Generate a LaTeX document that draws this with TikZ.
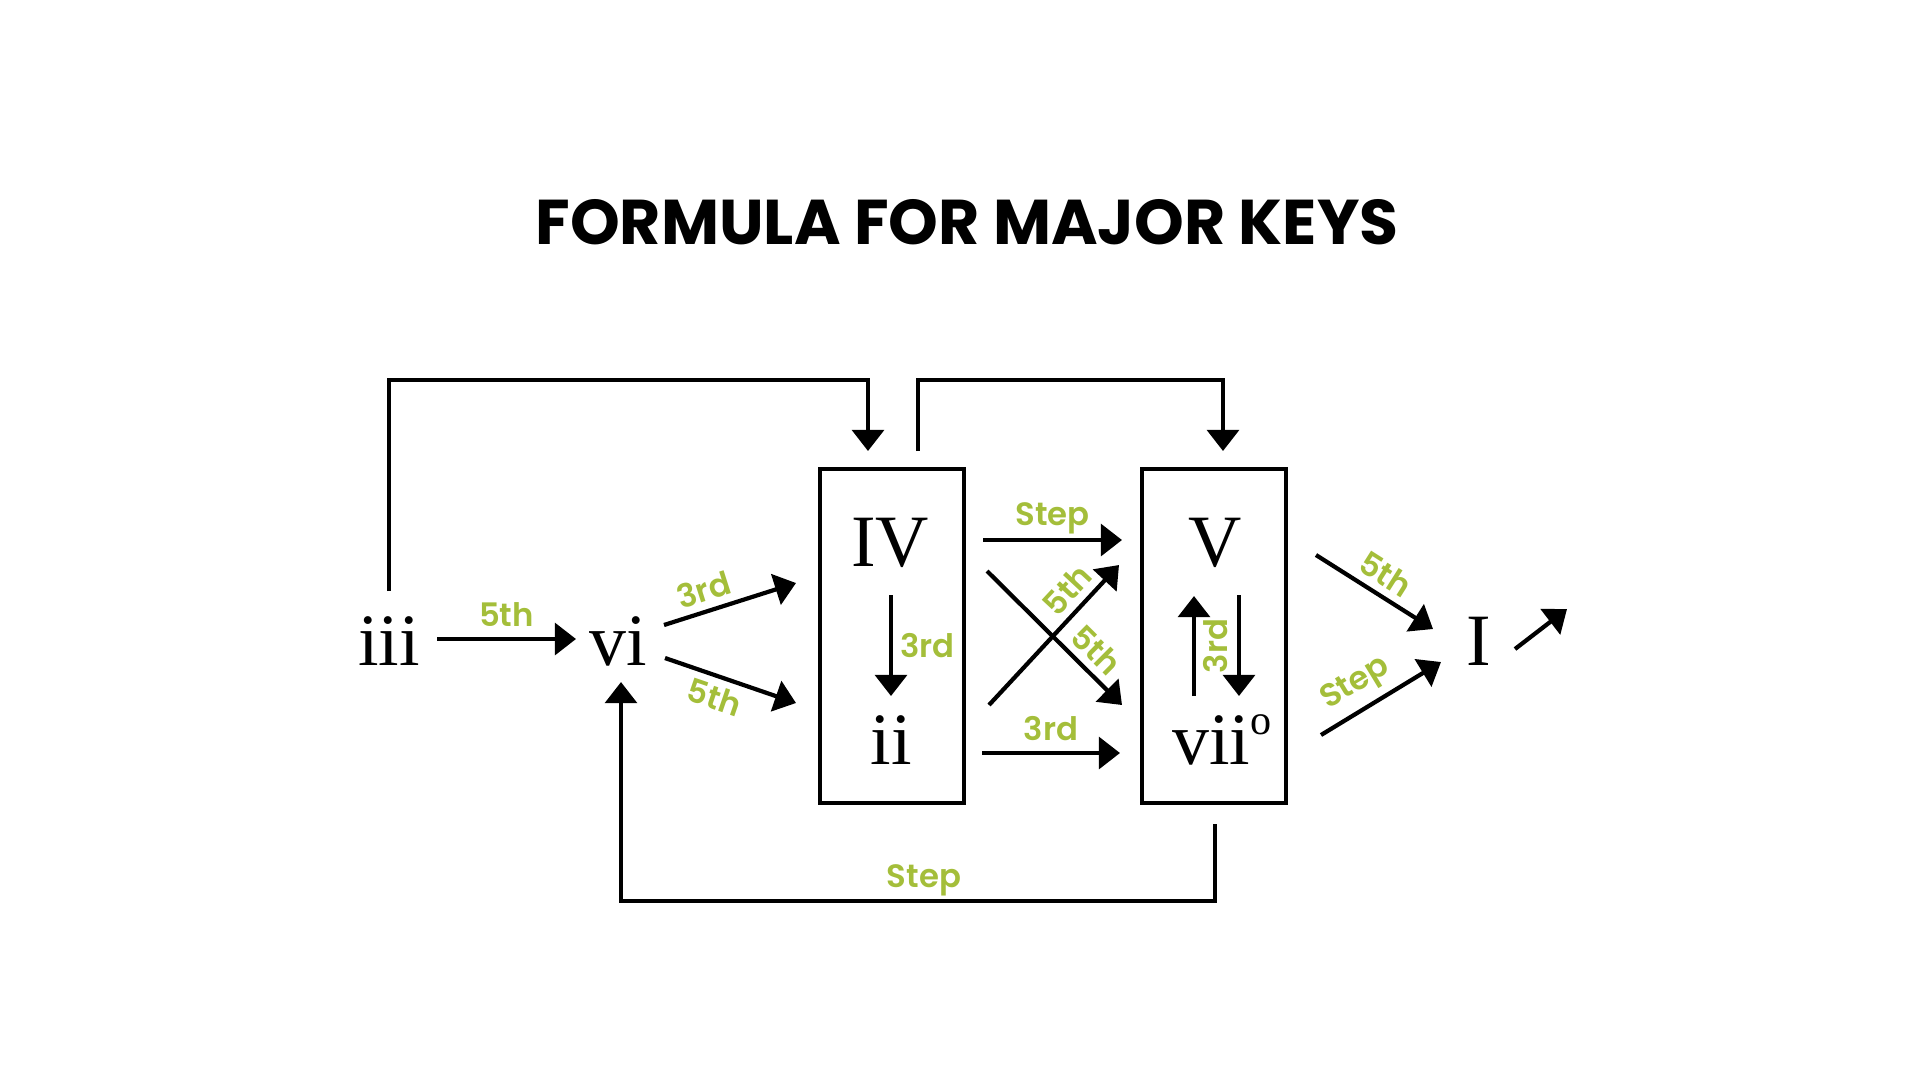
\documentclass[tikz,border=0pt]{standalone}
\usepackage{fontspec}
\setmainfont{Liberation Serif}
\newfontfamily\headfont{Poppins}
\newfontfamily\labelfont{Poppins SemiBold}
\usepackage{tikz}
\usetikzlibrary{arrows.meta}
\definecolor{intgreen}{RGB}{164,190,58}

\begin{document}
\begin{tikzpicture}[x=0.1mm,y=-0.1mm,
chord/.style={font=\fontsize{21}{25}\selectfont,anchor=base,inner sep=0pt},
interval/.style={font=\labelfont\fontsize{9.2}{11}\selectfont,text=intgreen,inner sep=2pt},
arr/.style={line width=1.2pt,-{Triangle[length=6pt,width=9pt]}},
keybox/.style={draw,line width=1.2pt,minimum width=14.4mm,minimum height=33.4mm}]
\useasboundingbox (0,0) rectangle (1920,1080);
\node[font=\headfont\bfseries\fontsize{18}{22}\selectfont] (title) at (967,222) {FORMULA FOR MAJOR KEYS};
\node[keybox] (subbox) at (892,636) {};
\node[keybox] (dombox) at (1214,636) {};
\node[chord] (iii) at (389,665) {iii};
\node[chord] (vi) at (618,665) {vi};
\node[chord] (IV) at (890,566) {IV};
\node[chord] (ii) at (891,764) {ii};
\node[chord] (V) at (1215,566) {V};
\node[chord] (vii) at (1222,764) {vii\raisebox{8.5pt}{\fontsize{12}{12}\selectfont o}};
\node[chord] (I) at (1479,665) {I};
\coordinate (iiiR) at (437,639);
\coordinate (iiiT) at (389,591);
\coordinate (viL) at (576,639);
\coordinate (viUR) at (664,625);
\coordinate (viDR) at (665,658);
\coordinate (viB) at (621,682);
\coordinate (subUL) at (796,583);
\coordinate (subDL) at (796,703);
\coordinate (subTL) at (868,451);
\coordinate (subTR) at (918,451);
\coordinate (IVB) at (891,595);
\coordinate (iiT) at (891,696);
\coordinate (subR1) at (983,540);
\coordinate (subR2) at (987,571);
\coordinate (subR3) at (989,705);
\coordinate (subR4) at (982,753);
\coordinate (domL1) at (1122,540);
\coordinate (domL2) at (1119,565);
\coordinate (domL3) at (1122,705);
\coordinate (domL4) at (1120,753);
\coordinate (domT) at (1223,451);
\coordinate (VB) at (1239,595);
\coordinate (viiT) at (1239,696);
\coordinate (viiL) at (1194,696);
\coordinate (VL) at (1194,596);
\coordinate (domB) at (1215,824);
\coordinate (domR1) at (1316,555);
\coordinate (domR2) at (1321,735);
\coordinate (IL1) at (1433,629);
\coordinate (IL2) at (1441,662);
\coordinate (IR) at (1515,649);
\coordinate (Iout) at (1567,609);

\draw[arr] (iiiR) -- node[interval,above=1pt]{5th} (viL);
\draw[arr] (viUR) -- node[interval,pos=0.35,above,sloped]{3rd} (subUL);
\draw[arr] (viDR) -- node[interval,pos=0.43,below,sloped]{5th} (subDL);
\draw[arr] (iiiT) -- (iiiT|-0,380) -- (subTL|-0,380) -- (subTL);
\draw[arr] (subTR) -- (subTR|-0,380) -- (domT|-0,380) -- (domT);
\draw[arr] (IVB) -- node[interval,right=0pt]{3rd} (iiT);
\draw[arr] (subR1) -- node[interval,above=-1pt]{Step} (domL1);
\draw[arr] (subR3) -- node[interval,pos=0.72,above,sloped]{5th} (domL2);
\draw[arr] (subR2) -- node[interval,pos=0.7,above,sloped]{5th} (domL3);
\draw[arr] (subR4) -- node[interval,above=1pt]{3rd} (domL4);
\draw[arr] (VB) -- (viiT);
\draw[arr] (viiL) -- node[interval,midway,below,sloped]{3rd} (VL);
\draw[arr] (domR1) -- node[interval,pos=0.5,above,sloped]{5th} (IL1);
\draw[arr] (domR2) -- node[interval,pos=0.4,above,sloped]{Step} (IL2);
\draw[arr] (IR) -- (Iout);
\draw[arr] (domB) -- (domB|-0,901) -- node[interval,pos=0.49,above=-1.3pt]{Step} (viB|-0,901) -- (viB);
\end{tikzpicture}
\end{document}
